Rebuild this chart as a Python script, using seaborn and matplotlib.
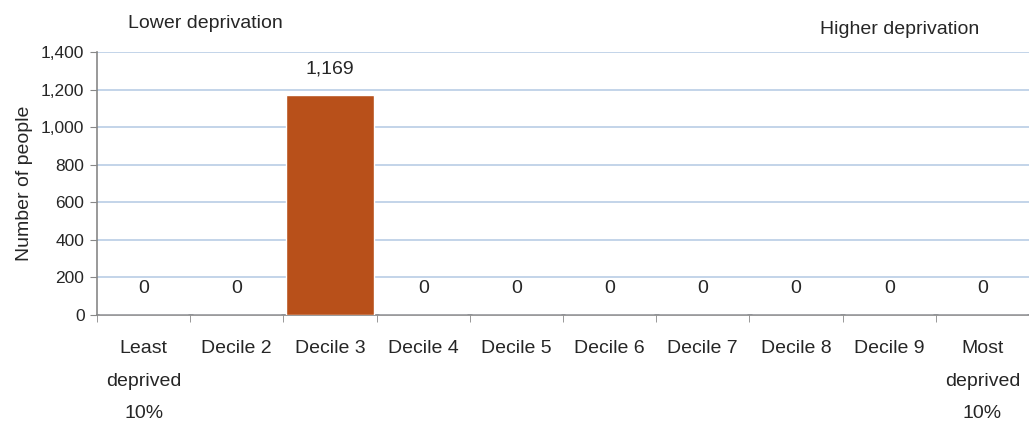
import numpy as np
import pandas as pd
import matplotlib
matplotlib.use("Agg")
import matplotlib.pyplot as plt
import seaborn as sns

# data
deciles = ["Least\ndeprived\n10%", "Decile 2", "Decile 3", "Decile 4", "Decile 5",
           "Decile 6", "Decile 7", "Decile 8", "Decile 9", "Most\ndeprived\n10%"]
people = [0, 0, 1169, 0, 0, 0, 0, 0, 0, 0]
yticks = [0, 200, 400, 600, 800, 1000, 1200, 1400]

df = pd.DataFrame({"decile": deciles, "people": people})

sns.set_style("white")
plt.rcParams["font.family"] = ["Liberation Sans", "DejaVu Sans"]

fig = plt.figure(figsize=(10.29, 4.25), dpi=100)
ax = fig.add_axes([97 / 1029, 1 - 315 / 425, 1 - 97 / 1029, (315 - 52) / 425])

sns.barplot(data=df, x="decile", y="people", color="#B8501A", saturation=1,
            width=0.95, ax=ax, zorder=3)

ax.set_ylim(0, 1400)
ax.set_xlim(-0.5, len(deciles) - 0.5)
ax.set_yticks(yticks)
ax.set_yticklabels([f"{v:,}" for v in yticks], fontsize=12.5)
ax.set_xticks(range(len(deciles)))
ax.set_xticklabels(deciles, fontsize=14, linespacing=2.2)
ax.set_xticks(np.arange(-0.5, len(deciles) + 0.5, 1), minor=True)
ax.tick_params(axis="x", which="major", length=0, pad=18)
ax.tick_params(axis="x", which="minor", length=5, color="#888888", direction="out", bottom=True)
ax.tick_params(axis="y", length=5, color="#888888", direction="out", left=True, pad=4)
ax.yaxis.grid(True, color="#B9CDE5", linewidth=1.2, zorder=0)
ax.set_axisbelow(True)

for s in ["top", "right"]:
    ax.spines[s].set_visible(False)
for s in ["left", "bottom"]:
    ax.spines[s].set_color("#888888")
    ax.spines[s].set_linewidth(1.2)

ax.set_xlabel("")
ax.set_ylabel("Number of people", fontsize=14, labelpad=6)

# data labels
for i, v in enumerate(people):
    ax.annotate(f"{v:,}", (i, v), xytext=(0, 13), textcoords="offset points",
                ha="center", va="bottom", fontsize=14)

fig.text(205 / 1029, 1 - 23 / 425, "Lower deprivation", ha="center", va="center", fontsize=14)
fig.text(900 / 1029, 1 - 29 / 425, "Higher deprivation", ha="center", va="center", fontsize=14)

fig.savefig("out.png", dpi=100)
